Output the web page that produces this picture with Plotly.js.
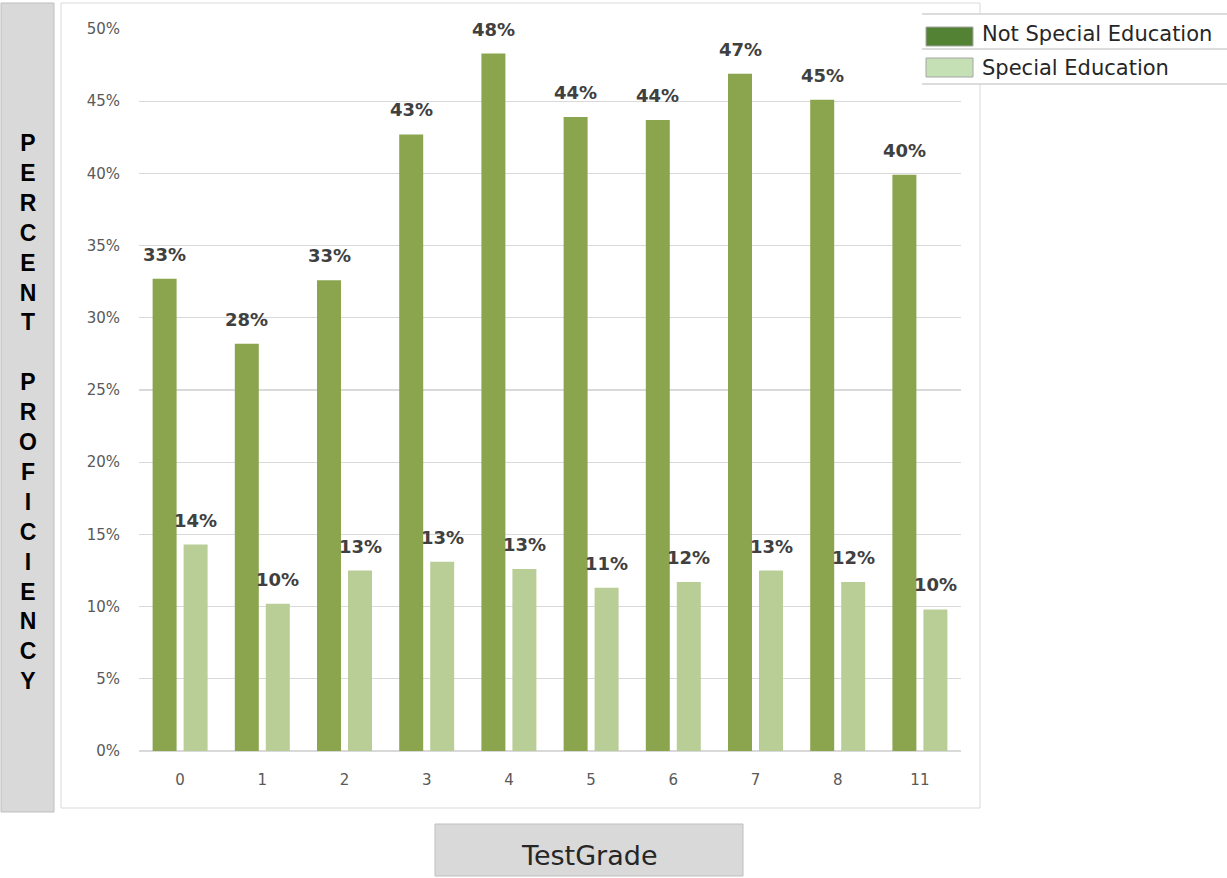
<!DOCTYPE html>
<html>
<head>
<meta charset="utf-8">
<script src="https://cdn.plot.ly/plotly-3.0.1.min.js"></script>
<style>html,body{margin:0;padding:0;background:#fff;}#chart{width:1227px;height:878px;}</style>
</head>
<body>
<div id="chart"></div>
<script>
// ---- data ----
const categories = ['0', '1', '2', '3', '4', '5', '6', '7', '8', '11'];
const seriesNames = ['Not Special Education', 'Special Education'];
const notSpecialEd = [32.7, 28.2, 32.6, 42.7, 48.3, 43.9, 43.7, 46.9, 45.1, 39.9];
const specialEd = [14.3, 10.2, 12.5, 13.1, 12.6, 11.3, 11.7, 12.5, 11.7, 9.8];
const yTickVals = [0, 5, 10, 15, 20, 25, 30, 35, 40, 45, 50];
const yTitleLetters = ['P','E','R','C','E','N','T','\u00a0','P','R','O','F','I','C','I','E','N','C','Y'];
const xTitle = 'TestGrade';

// ---- styling ----
const W = 1227, H = 878;
const M = {l: 139, r: 266, t: 29, b: 127};
const PW = W - M.l - M.r, PH = H - M.t - M.b;
const px = x => (x - M.l) / PW;          // pixel -> paper x
const py = y => (H - M.b - y) / PH;      // pixel -> paper y
const barColors = ['#8AA54E', '#B9CD96'];
const legendColors = ['#548235', '#C5E0B4'];
const numFont = 'DejaVu Sans, Verdana, sans-serif';

const traces = [notSpecialEd, specialEd].map((vals, i) => ({
  type: 'bar',
  name: seriesNames[i],
  x: categories,
  y: vals,
  marker: {color: barColors[i], line: {width: 0}},
  hoverinfo: 'x+y+name',
  showlegend: false
}));

const annotations = [];
[notSpecialEd, specialEd].forEach((vals, s) => {
  vals.forEach((v, i) => {
    annotations.push({
      x: i, y: v, xref: 'x', yref: 'y',   // category index on the category axis
      text: Math.round(v) + '%',
      showarrow: false,
      xanchor: 'center', yanchor: 'bottom',
      xshift: s === 0 ? -15.5 : 15.5,
      yshift: 12,
      font: {family: numFont, size: 18, color: '#404040', weight: 700}
    });
  });
});

// y axis title (stacked letters)
annotations.push({
  xref: 'paper', yref: 'paper', x: px(27.5), y: py(411.5),
  xanchor: 'center', yanchor: 'middle', showarrow: false,
  text: yTitleLetters.join('<br>'),
  font: {family: 'Liberation Sans, Arial, sans-serif', size: 23, color: '#000', weight: 700}
});
// x axis title
annotations.push({
  xref: 'paper', yref: 'paper', x: px(589), y: py(855),
  xanchor: 'center', yanchor: 'middle', showarrow: false,
  text: xTitle,
  font: {family: numFont, size: 27, color: '#262626'}
});
// legend labels
seriesNames.forEach((n, i) => {
  annotations.push({
    xref: 'paper', yref: 'paper', x: px(980), y: py(i === 0 ? 34 : 68),
    xanchor: 'left', yanchor: 'middle', showarrow: false,
    text: n,
    font: {family: numFont, size: 21, color: '#262626'}
  });
});

const rect = (x0, y0, x1, y1, fill, line, layer) => ({
  type: 'rect', xref: 'paper', yref: 'paper',
  x0: px(x0), x1: px(x1), y0: py(y1), y1: py(y0),
  fillcolor: fill, line: line ? {color: line, width: 1} : {width: 0},
  layer: layer || 'above'
});
const hline = (x0, x1, y, color) => ({
  type: 'line', xref: 'paper', yref: 'paper',
  x0: px(x0), x1: px(x1), y0: py(y), y1: py(y),
  line: {color: color, width: 1.3}, layer: 'above'
});

const shapes = [
  rect(61, 3, 980, 808, 'rgba(0,0,0,0)', '#D9D9D9', 'below'),
  rect(1, 3, 54, 812, '#D9D9D9', '#BFBFBF', 'below'),
  rect(435, 824, 743, 876, '#D9D9D9', '#BFBFBF', 'below'),
  rect(922, 14, 1227, 84, '#FFFFFF', null, 'above'),
  hline(922, 1227, 14, '#D0D0D0'),
  hline(922, 1227, 49, '#D0D0D0'),
  hline(922, 1227, 84, '#D0D0D0'),
  rect(926, 27, 973, 46, legendColors[0], '#A6A6A6', 'above'),
  rect(926, 58, 973, 77, legendColors[1], '#A6A6A6', 'above')
];

const layout = {
  width: W, height: H,
  margin: M,
  paper_bgcolor: '#FFFFFF',
  plot_bgcolor: '#FFFFFF',
  barmode: 'group',
  bargap: 0.246,
  bargroupgap: 0.226,
  showlegend: false,
  xaxis: {
    type: 'category',
    range: [-0.5, categories.length - 0.5],
    autorange: false,
    tickfont: {family: numFont, size: 15, color: '#595959'},
    ticklabelstandoff: 18,
    showline: false, showgrid: false, ticks: '', zeroline: false
  },
  yaxis: {
    range: [0, 50],
    autorange: false,
    tickvals: yTickVals,
    ticktext: yTickVals.map(v => v + '%'),
    tickfont: {family: numFont, size: 15, color: '#595959'},
    ticklabelstandoff: 18,
    gridcolor: '#D9D9D9', gridwidth: 1.3,
    zeroline: true, zerolinecolor: '#D9D9D9', zerolinewidth: 1.3,
    showline: false, ticks: ''
  },
  annotations: annotations,
  shapes: shapes
};

Plotly.newPlot('chart', traces, layout, {displayModeBar: false, staticPlot: true});
</script>
</body>
</html>
